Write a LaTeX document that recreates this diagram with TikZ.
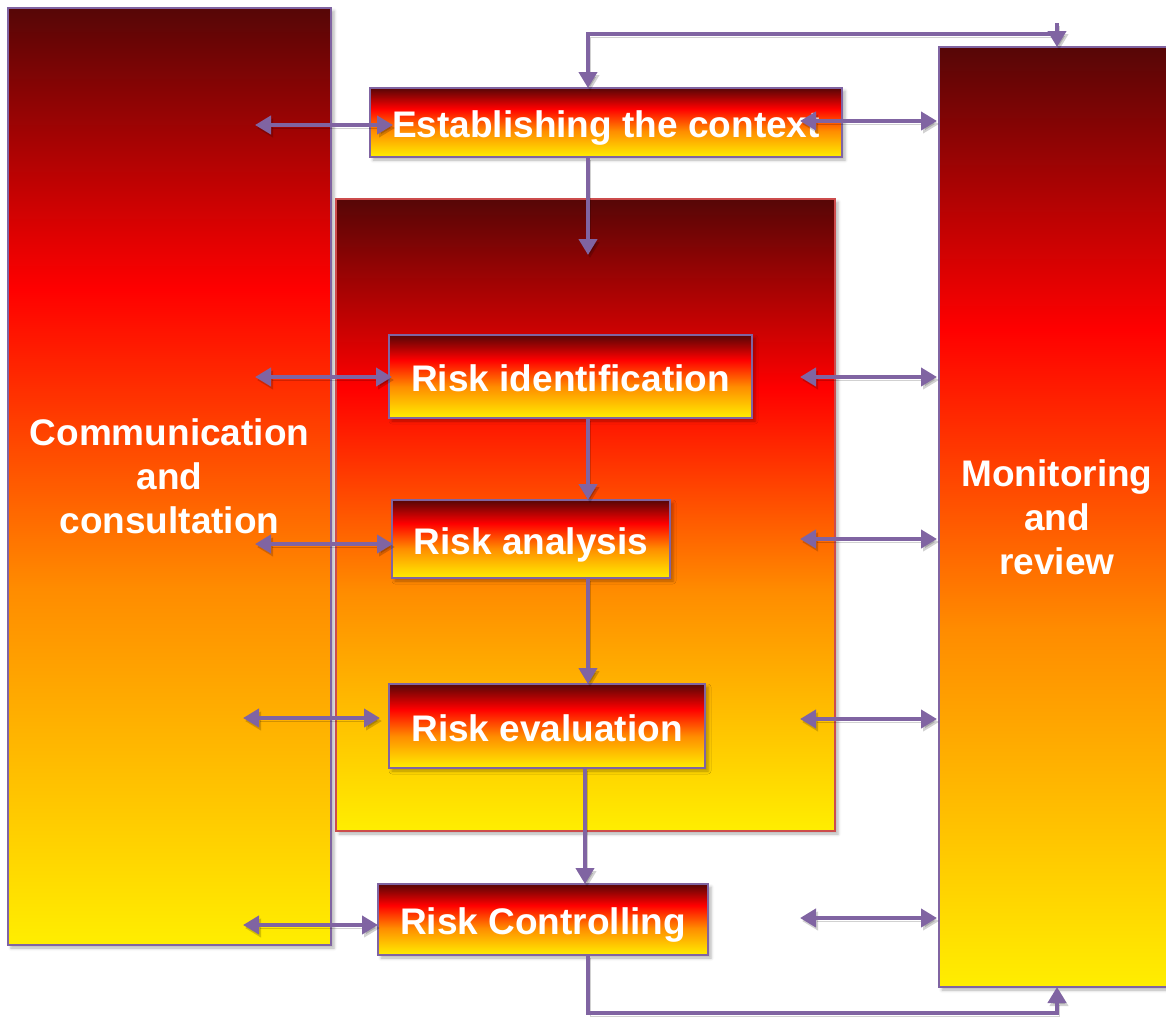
\documentclass[tikz,border=0pt]{standalone}
\usepackage{fontspec}
\setmainfont{Liberation Sans}
\usetikzlibrary{arrows.meta,calc,shadows.blur}

% Fire gradient: yellow at the bottom, orange, red, dark red at the top
\definecolor{fireY}{HTML}{FFEE00}
\definecolor{fireO}{HTML}{FF8C00}
\definecolor{fireR}{HTML}{FF0000}
\definecolor{fireD}{HTML}{560606}
\definecolor{linkc}{HTML}{8064A2}
\definecolor{midedge}{HTML}{CC4C4C}
\pgfdeclareverticalshading{fire}{100bp}{
  color(0bp)=(fireY); color(25bp)=(fireY); color(44bp)=(fireO);
  color(60bp)=(fireR); color(75bp)=(fireD); color(100bp)=(fireD)}

\tikzset{
  box/.style={shading=fire, draw=linkc, line width=1.8pt, inner sep=0pt, outer sep=0pt,
    text=white, font=\bfseries\fontsize{37}{44}\selectfont, align=center,
    blur shadow={shadow xshift=3pt, shadow yshift=-3pt, shadow blur radius=3pt, shadow opacity=30}},
  stepbox/.style={box, text height=30pt, text depth=0pt},
  bigbox/.style={box, draw=midedge},
  link/.style={draw=linkc, line width=4.6pt,
    preaction={draw=black, opacity=0.18, transform canvas={shift={(2pt,-3pt)}}}},
  arr/.style={link, -{Triangle[length=16pt,width=18pt]}},
  dbl/.style={link, {Triangle[length=16pt,width=18pt]}-{Triangle[length=16pt,width=18pt]}}
}

\begin{document}
\begin{tikzpicture}[x=1pt,y=-1pt]
\path[use as bounding box] (0,0) rectangle (1166,1017);
\clip (0,0) rectangle (1166,1017);

% large panels
\node[box, minimum width=323pt, minimum height=937pt] (comm) at (169.5,476.5)
  {Communication\\and\\consultation};
\node[box, minimum width=236pt, minimum height=940pt] (mon) at (1057,517)
  {Monitoring\\and\\review};
\node[bigbox, minimum width=499pt, minimum height=632pt] (mid) at (585.5,515) {};

% process steps
\node[stepbox, minimum width=472pt, minimum height=69pt] (ctx) at (606,122.5) {Establishing the context};
\node[stepbox, minimum width=363pt, minimum height=83pt] (rid) at (570.5,376.5) {Risk identification};
\node[stepbox, minimum width=278pt, minimum height=78pt] (ran) at (531,539) {Risk analysis};
\node[stepbox, minimum width=316pt, minimum height=84pt] (rev) at (547,726) {Risk evaluation};
\node[stepbox, minimum width=330pt, minimum height=71pt] (rct) at (543,919.5) {Risk Controlling};

% main flow
\draw[arr] ([xshift=-18pt]ctx.south) -- ++(0,98);
\draw[arr] ([xshift=17.5pt]rid.south) -- ([xshift=17.5pt]rid.south |- ran.north);
\draw[arr] ([xshift=57pt]ran.south) -- ([xshift=57pt]ran.south |- rev.north);
\draw[arr] ([xshift=38pt]rev.south) -- ([xshift=38pt]rev.south |- rct.north);

% feedback loops with monitoring
\draw[arr] ([yshift=13pt]mon.north) -| ([xshift=-18pt]ctx.north);
\draw[arr] ([yshift=24pt]mon.north) -- (mon.north);
\draw[arr] ([xshift=45pt]rct.south) |- ([yshift=-26pt]mon.south) -- (mon.south);

% communication links
\draw[dbl] ($(comm.east |- ctx.west)+(-76,2.5)$) -- ($(ctx.west)+(23,2.5)$);
\draw[dbl] ($(comm.east |- rid.west)+(-76,0.5)$) -- ($(rid.west)+(3,0.5)$);
\draw[dbl] ($(comm.east |- ran.west)+(-76,5)$) -- ($(ran.west)+(1,5)$);
\draw[dbl] ($(comm.east |- rev.west)+(-88,-8)$) -- ($(rev.west)+(-9,-8)$);
\draw[dbl] ($(comm.east |- rct.west)+(-88,5.5)$) -- ($(rct.west)+(0,5.5)$);

% monitoring links
\draw[dbl] ($(ctx.east)+(-42,-1.5)$) -- ($(mon.west |- ctx.east)+(-2,-1.5)$);
\draw[dbl] ($(mid.east |- rid.east)+(-35,0.5)$) -- ($(mon.west |- rid.east)+(-2,0.5)$);
\draw[dbl] ($(mid.east |- ran.east)+(-35,0)$) -- ($(mon.west |- ran.east)+(-2,0)$);
\draw[dbl] ($(mid.east |- rev.east)+(-35,-7)$) -- ($(mon.west |- rev.east)+(-2,-7)$);
\draw[dbl] ($(mid.east |- rct.east)+(-35,-1.5)$) -- ($(mon.west |- rct.east)+(-2,-1.5)$);
\end{tikzpicture}
\end{document}
